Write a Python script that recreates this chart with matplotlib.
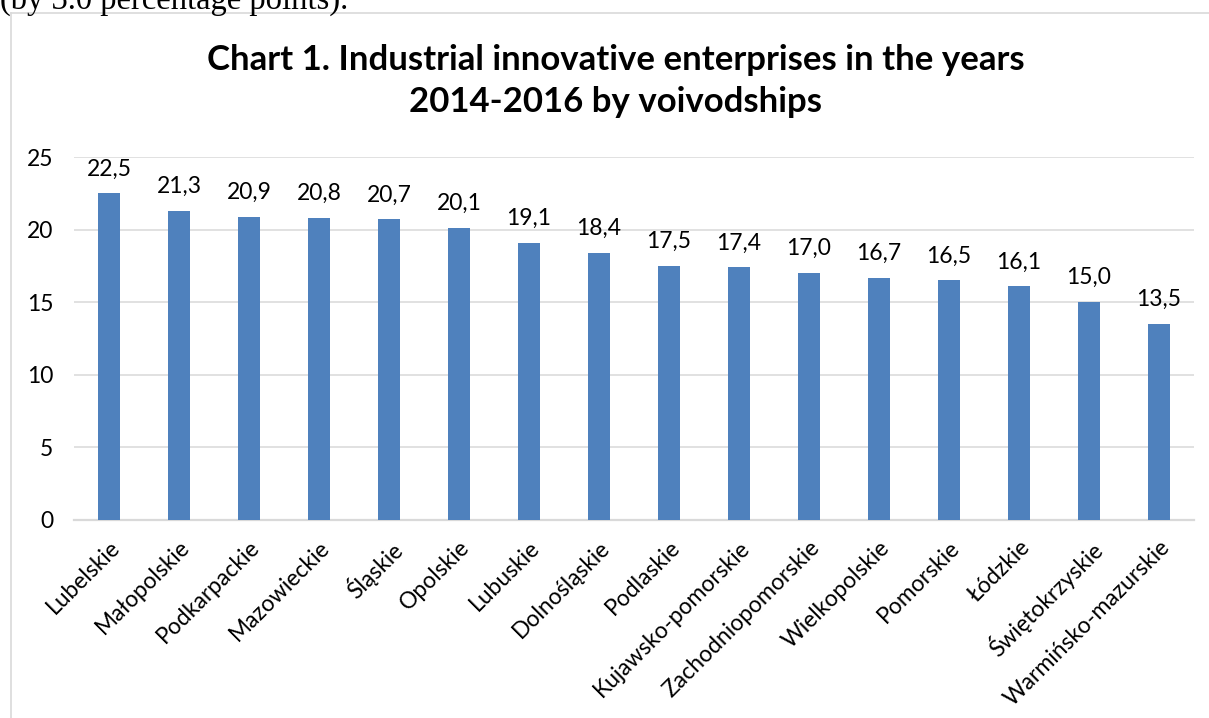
import matplotlib
matplotlib.use('Agg')
import matplotlib.pyplot as plt
from matplotlib.lines import Line2D

# Udzial przedsiebiorstw innowacyjnych w przemysle, 2014-2016 (%)
wojewodztwa = ["Lubelskie", "Małopolskie", "Podkarpackie", "Mazowieckie", "Śląskie",
               "Opolskie", "Lubuskie", "Dolnośląskie", "Podlaskie", "Kujawsko-pomorskie",
               "Zachodniopomorskie", "Wielkopolskie", "Pomorskie", "Łódzkie",
               "Świętokrzyskie", "Warmińsko-mazurskie"]
udzial = [22.5, 21.3, 20.9, 20.8, 20.7, 20.1, 19.1, 18.4, 17.5, 17.4,
          17.0, 16.7, 16.5, 16.1, 15.0, 13.5]
y_ticks = [0, 5, 10, 15, 20, 25]

KOLOR   = "#4F81BD"
SIATKA  = "#D9D9D9"
FONT    = "Lato"
ROZMIAR = 16.5

fig = plt.figure(figsize=(12.09, 7.18), dpi=100)
ax = fig.add_axes([0.0612, 0.2758, 0.9264, 0.5055])

x = range(len(wojewodztwa))
bars = ax.bar(x, udzial, width=0.31, color=KOLOR, zorder=3)

ax.set_xlim(-0.5, len(wojewodztwa) - 0.5)
ax.set_ylim(0, 25)
ax.set_yticks(y_ticks)
ax.set_yticklabels([str(t) for t in y_ticks], fontsize=ROZMIAR, family=FONT)
ax.yaxis.grid(True, color=SIATKA, linewidth=1.1, zorder=0)
ax.tick_params(axis="both", length=0)
ax.tick_params(axis="y", pad=15)
ax.tick_params(axis="x", pad=12)

for s in ["left", "right", "top"]:
    ax.spines[s].set_visible(False)
ax.spines["bottom"].set_color(SIATKA)
ax.spines["bottom"].set_linewidth(1.6)

ax.set_xticks(list(x))
ax.set_xticklabels(wojewodztwa, rotation=45, ha="right", va="top",
                   rotation_mode="anchor", fontsize=ROZMIAR, family=FONT)

# etykiety wartosci nad slupkami (przecinek dziesietny)
for b, v in zip(bars, udzial):
    ax.annotate(f"{v:.1f}".replace(".", ","),
                xy=(b.get_x() + b.get_width() / 2, v),
                xytext=(0, 10), textcoords="offset points",
                ha="center", va="bottom", fontsize=ROZMIAR, family=FONT)

fig.text(0.509, 0.887, "Chart 1. Industrial innovative enterprises in the years\n"
         "2014-2016 by voivodships", ha="center", va="center",
         fontsize=25, fontweight="bold", family=FONT, linespacing=1.38)

# fragment tekstu dokumentu nad wykresem
fig.text(0.0, 1.0 - 9 / 718, "(by 3.0 percentage points).", ha="left",
         va="baseline", fontsize=23.5, family="Liberation Serif")

# ramka obszaru wykresu
fig.add_artist(Line2D([11 / 1209, 11 / 1209], [0, 1 - 13 / 718],
                      transform=fig.transFigure, color=SIATKA, linewidth=1.2))
fig.add_artist(Line2D([11 / 1209, 1], [1 - 13 / 718, 1 - 13 / 718],
                      transform=fig.transFigure, color=SIATKA, linewidth=1.2))

fig.savefig("out.png", dpi=100)
